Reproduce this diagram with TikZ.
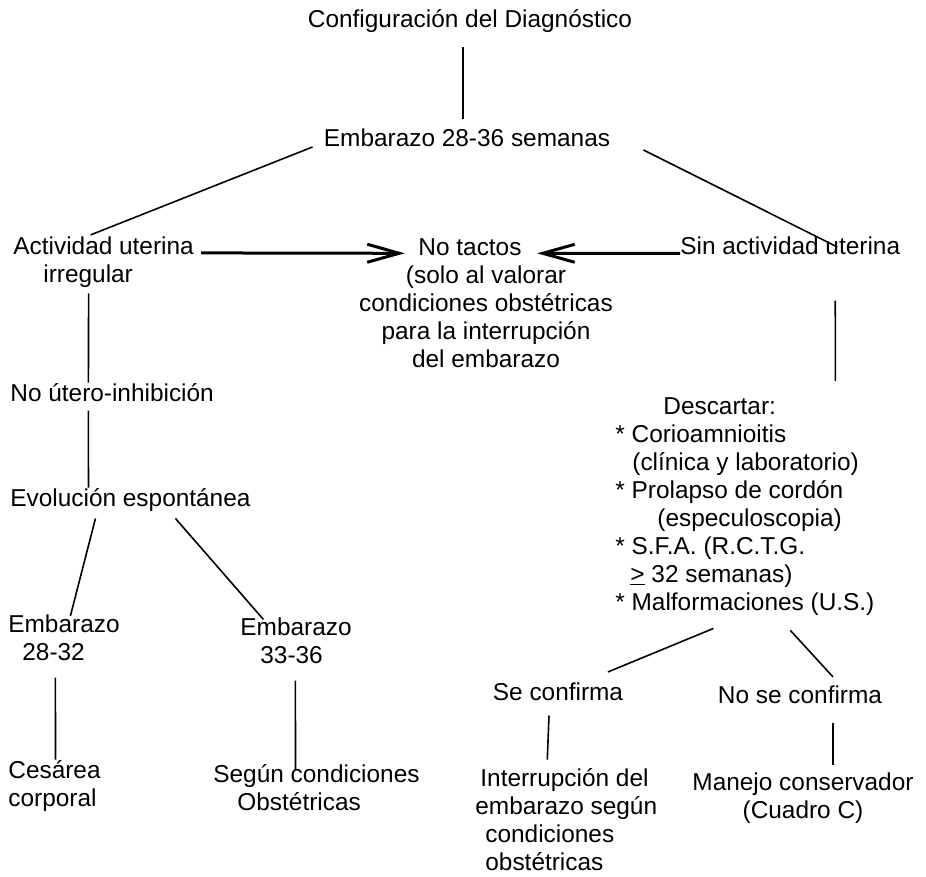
\documentclass[tikz,border=0pt]{standalone}
\usepackage{fontspec}
\setmainfont{Liberation Sans}
\usetikzlibrary{arrows.meta}

\begin{document}
\begin{tikzpicture}[
    x=0.5pt, y=-0.5pt,
    txt/.style={inner sep=0pt, font=\fontsize{12.2}{14}\selectfont},
    lnk/.style={line width=0.8pt},
    arw/.style={-{Straight Barb[length=16pt, width=9pt]}, line width=1.5pt}
]
    \useasboundingbox (0,0) rectangle (926,877);

    \node[txt, anchor=base] (title) at (470,28) {Configuración del Diagnóstico};
    \node[txt, anchor=base] (emb) at (467,147) {Embarazo 28-36 semanas};
    \node[txt, anchor=base west, align=left] (act) at (13,283) {Actividad uterina\\\hspace*{15pt}irregular};
    \node[txt, anchor=base, align=center] (nota) at (486,367) {No tactos\hspace*{16pt}\\(solo al valorar\\condiciones obstétricas\\para la interrupción\\del embarazo};
    \node[txt, anchor=base west] (sin) at (680,255) {Sin actividad uterina};
    \node[txt, anchor=base west] (noutero) at (10,401) {No útero-inhibición};
    \node[txt, anchor=base west] (evol) at (10,506) {Evolución espontánea};
    \node[txt, anchor=base west, align=left] (e2832) at (8,660) {Embarazo\\\hspace*{7pt}28-32};
    \node[txt, anchor=base west, align=left] (e3336) at (240,663) {Embarazo\\\hspace*{10pt}33-36};
    \node[txt, anchor=base west, align=left] (cesarea) at (8,806) {Cesárea\\corporal};
    \node[txt, anchor=base west, align=left] (segun) at (213,810) {Según condiciones\\\hspace*{12pt}Obstétricas};
    \node[txt, anchor=base west, align=left] (desc) at (615,610) {\hspace*{24pt}Descartar:\\* Corioamnioitis\\\hspace*{8.5pt}(clínica y laboratorio)\\* Prolapso de cordón\\\hspace*{21pt}(especuloscopia)\\* S.F.A. (R.C.T.G.\\\hspace*{7.5pt}\underline{>} 32 semanas)\\* Malformaciones (U.S.)};
    \node[txt, anchor=base] (seconf) at (558,700) {Se confirma};
    \node[txt, anchor=base] (noconf) at (800,703) {No se confirma};
    \node[txt, anchor=base west, align=left] (interr) at (475,870) {\hspace*{2.5pt}Interrupción del\\embarazo según\\\hspace*{5pt}condiciones\\\hspace*{5pt}obstétricas};
    \node[txt, anchor=base, align=center] (manejo) at (803,818) {Manejo conservador\\(Cuadro C)};

    \draw[lnk] ([xshift=-3.5pt, yshift=-7pt]title.south) -- ([xshift=-2pt, yshift=5pt]emb.north);
    \draw[lnk] ([xshift=-5.5pt]emb.base west) -- ([xshift=-6.5pt, yshift=1pt]act.north);
    \draw[lnk] ([xshift=16.5pt, yshift=-1.5pt]emb.base east) -- ([xshift=23.5pt, yshift=-5pt]sin.north);
    \draw[arw] ([xshift=3.5pt, yshift=-8pt]act.north east) -- ([xshift=23pt, yshift=-7.75pt]nota.north west);
    \draw[arw] ([yshift=-3.5pt]sin.west) -- ([xshift=-38pt, yshift=-7.75pt]nota.north east);
    \draw[lnk] ([xshift=-7.5pt, yshift=-2.5pt]act.south) -- ([xshift=-11.85pt]noutero.north);
    \draw[lnk] ([xshift=-11.85pt, yshift=-4.5pt]noutero.south) -- ([xshift=-21pt]evol.north);
    \draw[lnk] ([xshift=-17.5pt, yshift=-3.5pt]evol.south) -- ([xshift=3.2pt, yshift=-1pt]e2832.north);
    \draw[lnk] ([xshift=22.5pt, yshift=-3.5pt]evol.south) -- ([xshift=-16.3pt, yshift=-1.25pt]e3336.north);
    \draw[lnk] ([xshift=-4.3pt, yshift=-8.5pt]e2832.south) -- ([xshift=0.5pt]cesarea.north);
    \draw[lnk] ([xshift=-0.3pt, yshift=-8.5pt]e3336.south) -- ([xshift=-10.5pt, yshift=-3pt]segun.north);
    \draw[lnk] ([xshift=22.5pt, yshift=-22.5pt]sin.south) -- ([xshift=45.25pt, yshift=8pt]desc.north);
    \draw[lnk] ([xshift=-15.75pt, yshift=-6.5pt]desc.south) -- ([xshift=25pt, yshift=5pt]seconf.north);
    \draw[lnk] ([xshift=22.75pt, yshift=-7.5pt]desc.south) -- ([xshift=16.5pt, yshift=4pt]noconf.north);
    \draw[lnk] ([xshift=-4.5pt, yshift=-7.5pt]seconf.south) -- ([xshift=-9.5pt, yshift=4pt]interr.north);
    \draw[lnk] ([xshift=16.5pt, yshift=-9.5pt]noconf.south) -- ([xshift=15pt, yshift=3.5pt]manejo.north);
\end{tikzpicture}
\end{document}
